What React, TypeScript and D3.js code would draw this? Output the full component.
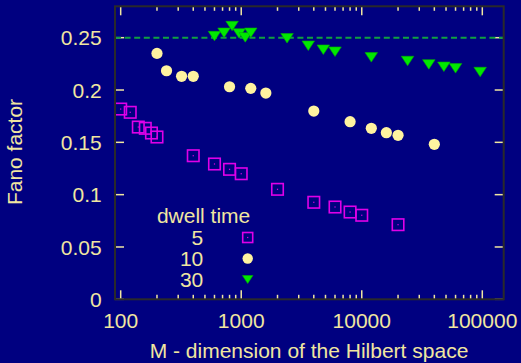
import React from "react";
import * as d3 from "d3";

const W = 521;
const H = 363;

// dwell time 5 (squares)
const m5 = [100, 120, 140, 160, 180, 200, 400, 600, 800, 1000, 2000, 4000, 6000, 8000, 10000, 20000];
const f5 = [0.1818, 0.1787, 0.1646, 0.1634, 0.1589, 0.1551, 0.1372, 0.1293, 0.1242, 0.12, 0.1051, 0.0927, 0.0882, 0.0834, 0.0803, 0.0713];

// dwell time 10 (circles)
const m10 = [200, 240, 320, 400, 800, 1200, 1600, 4000, 8000, 12000, 16000, 20000, 40000];
const f10 = [0.235, 0.2184, 0.2131, 0.2131, 0.2031, 0.2016, 0.1971, 0.1799, 0.1697, 0.1634, 0.1592, 0.1567, 0.1481];

// dwell time 30 (triangles)
const m30 = [600, 720, 840, 960, 1080, 1200, 2400, 3600, 4800, 6000, 12000, 24000, 36000, 48000, 60000, 96000];
const f30 = [0.2515, 0.2547, 0.2611, 0.2541, 0.2503, 0.2547, 0.2494, 0.2423, 0.2385, 0.2366, 0.2312, 0.2277, 0.2245, 0.2222, 0.2207, 0.2172];

const xTicks = [100, 1000, 10000, 100000];
const yTicks = [0, 0.05, 0.1, 0.15, 0.2, 0.25];
const legendLabels = ["5", "10", "30"];
const refLine = 0.25;

const BG = "#000080";
const TXT = "#f0e6a0";
const TICK = "#f0e6a0";
const FRAME = "#2a2a2a";
const SQ = "#e000e8";
const CIRC = "#fff3a0";
const TRI = "#00e800";
const DASH = "#10a040";
const FONT = "'Liberation Sans', Arial, sans-serif";

const L = 115, R = 503.7, T = 6.3, B = 299.3;

export default function App() {
  const x = d3.scaleLog().domain([89.7, 150500]).range([L, R]);
  const y = d3.scaleLinear().domain([0, 0.28]).range([B, T]);

  const minor: number[] = [];
  for (let e = 1; e <= 5; e++) {
    for (let k = 2; k <= 9; k++) {
      const v = k * Math.pow(10, e);
      if (v > 89.7 && v < 150500) minor.push(v);
    }
  }
  const majorLen = 9;
  const minorLen = 4.5;

  const sq = (cx: number, cy: number, s: number, key: string) => (
    <g key={key}>
      <rect x={cx - s / 2} y={cy - s / 2} width={s} height={s} fill="none" stroke={SQ} strokeWidth={1.6} />
      <rect x={cx - 0.6} y={cy - 0.6} width={1.2} height={1.2} fill={SQ} />
    </g>
  );
  const tri = (cx: number, cy: number, w: number, h: number, key: string) => (
    <path
      key={key}
      d={`M${cx - w / 2},${cy - h / 2}L${cx + w / 2},${cy - h / 2}L${cx},${cy + h / 2}Z`}
      fill={TRI}
      stroke="#00b000"
      strokeWidth={0.6}
    />
  );

  const legX = 247.7;
  const legTextX = 203.3;
  const legY = [237.5, 258.5, 279.5];

  return (
    <svg
      width={W}
      height={H}
      style={{ position: "absolute", left: 0, top: 0, display: "block" }}
      fontFamily={FONT}
    >
      <rect x={0} y={0} width={W} height={H} fill={BG} />

      {/* ticks */}
      <g stroke={TICK} strokeWidth={1.5}>
        {xTicks.map((v) => (
          <g key={"xt" + v}>
            <line x1={x(v)} x2={x(v)} y1={B} y2={B - majorLen} />
            <line x1={x(v)} x2={x(v)} y1={T} y2={T + majorLen} />
          </g>
        ))}
        {minor.map((v) => (
          <g key={"xm" + v}>
            <line x1={x(v)} x2={x(v)} y1={B} y2={B - minorLen} />
            <line x1={x(v)} x2={x(v)} y1={T} y2={T + minorLen} />
          </g>
        ))}
        {yTicks.map((v) => (
          <g key={"yt" + v}>
            <line x1={L} x2={L + majorLen} y1={y(v)} y2={y(v)} />
            <line x1={R} x2={R - majorLen} y1={y(v)} y2={y(v)} />
          </g>
        ))}
      </g>

      {/* reference line */}
      <line
        x1={L}
        x2={R}
        y1={y(refLine)}
        y2={y(refLine)}
        stroke={DASH}
        strokeWidth={2}
        strokeDasharray="6,3.6"
      />

      {/* data */}
      <g>{m5.map((m, i) => sq(x(m), y(f5[i]), 11.5, "s" + i))}</g>
      <g>
        {m10.map((m, i) => (
          <circle key={"c" + i} cx={x(m)} cy={y(f10[i])} r={5.6} fill={CIRC} />
        ))}
      </g>
      <g>{m30.map((m, i) => tri(x(m), y(f30[i]), 12.5, 9.5, "t" + i))}</g>

      {/* frame */}
      <rect x={L} y={T} width={R - L} height={B - T} fill="none" stroke={FRAME} strokeWidth={2} />

      {/* tick labels */}
      <g fill={TXT} fontSize={21}>
        {yTicks.map((v) => (
          <text key={"yl" + v} x={101.7} y={y(v)} dy="0.36em" textAnchor="end">
            {d3.format("~g")(v)}
          </text>
        ))}
        {xTicks.map((v) => (
          <text key={"xl" + v} x={x(v)} y={328} textAnchor="middle">
            {String(v)}
          </text>
        ))}
        <text x={309} y={358} textAnchor="middle">
          M - dimension of the Hilbert space
        </text>
        <text transform="translate(22,152) rotate(-90)" textAnchor="middle">
          Fano factor
        </text>
      </g>

      {/* legend */}
      <g fill={TXT} fontSize={21}>
        <text x={203.6} y={222.5} textAnchor="middle">
          dwell time
        </text>
        {legendLabels.map((lab, i) => (
          <text key={"lg" + i} x={legTextX} y={legY[i]} dy="0.36em" textAnchor="end">
            {lab}
          </text>
        ))}
      </g>
      {sq(legX, legY[0], 10, "ls")}
      <circle cx={legX} cy={legY[1]} r={5.2} fill={CIRC} />
      {tri(legX, legY[2], 10.5, 8, "lt")}
    </svg>
  );
}
